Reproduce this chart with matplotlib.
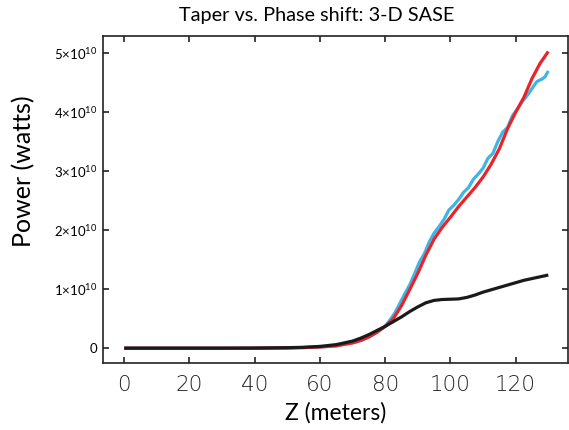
import matplotlib
matplotlib.use("Agg")
import matplotlib.pyplot as plt

plt.rcParams['font.family'] = ['Lato', 'DejaVu Sans']
plt.rcParams['mathtext.fontset'] = 'custom'
plt.rcParams['mathtext.rm'] = 'Lato'
plt.rcParams['mathtext.it'] = 'Lato:italic'
plt.rcParams['mathtext.bf'] = 'Lato:bold'

# Data (power in units of 1e10 W)
z = [0, 10, 20, 30, 40, 50, 55, 60, 65, 70, 72.5, 75, 77.5, 80, 82.5, 85,
     87.5, 90, 92.5, 95, 97.5, 100, 102.5, 105, 107.5, 110, 112.5, 115,
     117.5, 120, 122.5, 125, 127.5, 130]
p_black = [0, 0, 0, 0, 0.002, 0.008, 0.015, 0.03, 0.06, 0.12, 0.17, 0.23,
           0.30, 0.37, 0.45, 0.53, 0.62, 0.70, 0.77, 0.81, 0.825, 0.83,
           0.835, 0.86, 0.90, 0.95, 0.99, 1.03, 1.07, 1.11, 1.15, 1.18,
           1.21, 1.24]
p_red = [0, 0, 0, 0, 0, 0.004, 0.01, 0.02, 0.04, 0.09, 0.13, 0.19, 0.27,
         0.37, 0.50, 0.72, 0.99, 1.27, 1.58, 1.85, 2.05, 2.22, 2.40, 2.56,
         2.72, 2.90, 3.12, 3.38, 3.72, 4.00, 4.25, 4.57, 4.83, 5.03]

z_cyan = [0, 10, 20, 30, 40, 50, 55, 60, 65, 70, 72.5, 75, 77.5, 80, 81.5,
          83, 84.5, 86, 87.5, 89, 90.5, 92, 93.5, 95, 96.5, 98, 99.5, 101,
          102.5, 104, 105.5, 107, 108.5, 110, 111.5, 113, 114.5, 116, 117.5,
          119, 120.5, 122, 123.5, 125, 126.5, 128, 129, 130]
p_cyan = [0, 0, 0, 0, 0, 0.004, 0.01, 0.02, 0.04, 0.09, 0.13, 0.19, 0.27,
          0.37, 0.48, 0.60, 0.76, 0.92, 1.07, 1.26, 1.46, 1.60, 1.80, 1.95,
          2.06, 2.18, 2.34, 2.42, 2.52, 2.64, 2.72, 2.86, 2.95, 3.05, 3.22,
          3.30, 3.50, 3.66, 3.74, 3.94, 4.05, 4.18, 4.28, 4.40, 4.52, 4.56,
          4.60, 4.70]

xticks = [0, 20, 40, 60, 80, 100, 120]
yticks = [0, 1, 2, 3, 4, 5]
ytick_labels = ['0'] + [r'$%d{\times}10^{10}$' % v for v in yticks[1:]]

fig = plt.figure(figsize=(5.69, 4.30), dpi=100)
ax = fig.add_axes([0.181, 0.156, 0.817, 0.760])

scale = 1e10
ax.plot(z_cyan, [v * scale for v in p_cyan], color='#3db5e6', lw=2.3,
        solid_capstyle='butt')
ax.plot(z, [v * scale for v in p_red], color='#e8242a', lw=2.3,
        solid_capstyle='butt')
ax.plot(z, [v * scale for v in p_black], color='#1a1a1a', lw=2.3,
        solid_capstyle='butt')

ax.set_xlim(-6.5, 136)
ax.set_ylim(-0.25 * scale, 5.29 * scale)
ax.set_xticks(xticks)
ax.set_xticklabels([str(t) for t in xticks], family='DejaVu Sans',
                   fontweight='light')
ax.set_yticks([v * scale for v in yticks])
ax.set_yticklabels(ytick_labels)

for s in ax.spines.values():
    s.set_linewidth(1.2)
    s.set_color('#222222')
ax.tick_params(direction='in', length=4, width=1.2, color='#222222',
               top=True, right=True)
ax.tick_params(axis='x', labelsize=15.5, pad=9, labelcolor='#222222')
ax.tick_params(axis='y', labelsize=9.5, pad=4)

ax.set_xlabel('Z (meters)', fontsize=16.5)
ax.xaxis.set_label_coords(0.5, -0.12)
ax.set_ylabel('Power (watts)', fontsize=18)
ax.yaxis.set_label_coords(-0.146, 0.587)
fig.text(0.557, 0.965, 'Taper vs. Phase shift: 3-D SASE', ha='center',
         va='center', fontsize=14.3)

fig.savefig('out.png', dpi=100)
